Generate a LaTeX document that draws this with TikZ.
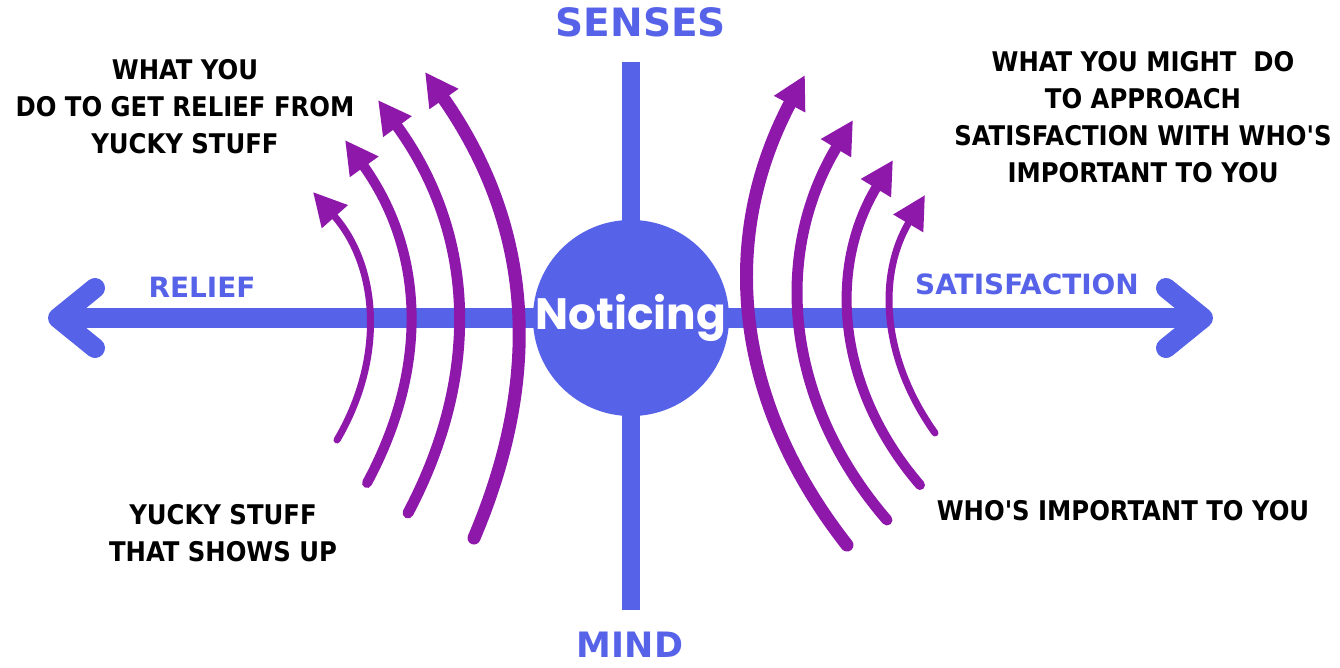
\documentclass[tikz,border=0pt]{standalone}
\usepackage{fontspec}
\usepackage{tikz}
\usetikzlibrary{arrows.meta,positioning}

\newfontfamily\blockfont{DejaVu Sans Condensed}
\newfontfamily\wordfont{DejaVu Sans}
\newfontfamily\roundfont{Poppins}
\definecolor{axisblue}{RGB}{86,98,232}
\definecolor{wavepurple}{RGB}{142,24,170}

\begin{document}
\begin{tikzpicture}[
x=0.02cm, y=-0.02cm,
axis/.style={
draw=axisblue,
line width=0.4cm
},
chevron/.style={
axis,
line cap=round,
line join=round
},
wave/.style={
draw=wavepurple,
line width=#1,
line cap=round,
-{Triangle[length=0.66cm, width=0.66cm]}
},
note/.style={
align=center,
inner sep=0pt,
font=\blockfont\bfseries\fontsize{15.4}{21}\selectfont
},
axislabel/.style={
text=axisblue,
inner sep=0pt,
font=\wordfont\bfseries\fontsize{#1}{#1}\selectfont
},
hub/.style={
circle,
fill=axisblue,
minimum size=3.8cm,
inner sep=0pt,
text=white,
font=\roundfont\bfseries\fontsize{25}{25}\selectfont
}
]

\useasboundingbox (0,0) rectangle (1340,667);
\fill[white] (0,0) rectangle (1340,667);

% axes
\coordinate (west) at (58,318);
\coordinate (east) at (1203,318);
\coordinate (north) at (631,62);
\coordinate (south) at (631,610);

\draw[axis] (west) -- (east);
\draw[axis, line width=0.36cm] (north) -- (south);
\draw[chevron] ([shift={(37,-30)}]west) -- (west) -- ([shift={(37,30)}]west);
\draw[chevron] ([shift={(-37,-30)}]east) -- (east) -- ([shift={(-37,30)}]east);

\node[hub] (notice) at (631,318) {Noticing};

% axis labels
\node[axislabel=22.2] (senses) at (641,22) {SENSES};
\node[axislabel=19.9] (mind) at (630,645) {MIND};
\node[axislabel=15.9] (relief) at (202,287) {RELIEF};
\node[axislabel=15.9] (satis) at (1027,284) {SATISFACTION};

% waves, relief side
\coordinate (l1b) at (474,538);
\coordinate (l1t) at (425,72);
\coordinate (l2b) at (408,513);
\coordinate (l2t) at (378,100);
\coordinate (l3b) at (367,483);
\coordinate (l3t) at (345,140);
\coordinate (l4b) at (337,440);
\coordinate (l4t) at (313,192);

\draw[wave=0.26cm] (l1b) to[bend right=29] (l1t);
\draw[wave=0.22cm] (l2b) to[bend right=32] (l2t);
\draw[wave=0.2cm] (l3b) to[bend right=32] (l3t);
\draw[wave=0.14cm] (l4b) to[bend right=36] (l4t);

% waves, satisfaction side
\coordinate (r1b) at (847,545);
\coordinate (r1t) at (805,75);
\coordinate (r2b) at (887,520);
\coordinate (r2t) at (853,120);
\coordinate (r3b) at (920,485);
\coordinate (r3t) at (893,160);
\coordinate (r4b) at (935,433);
\coordinate (r4t) at (925,195);

\draw[wave=0.26cm] (r1b) to[bend left=33] (r1t);
\draw[wave=0.22cm] (r2b) to[bend left=36] (r2t);
\draw[wave=0.2cm] (r3b) to[bend left=36] (r3t);
\draw[wave=0.14cm] (r4b) to[bend left=33] (r4t);

% notes
\node[note] (getrelief) at (185,107)
{WHAT YOU\\DO TO GET RELIEF FROM\\YUCKY STUFF};
\node[note] (approach) at (1143,117)
{WHAT YOU MIGHT\ \ DO\\TO APPROACH\\SATISFACTION WITH WHO'S\\IMPORTANT TO YOU};
\node[note] (yucky) at (223,533)
{YUCKY STUFF\\THAT SHOWS UP};
\node[note] (important) at (1123,511)
{WHO'S IMPORTANT TO YOU};

\end{tikzpicture}
\end{document}
